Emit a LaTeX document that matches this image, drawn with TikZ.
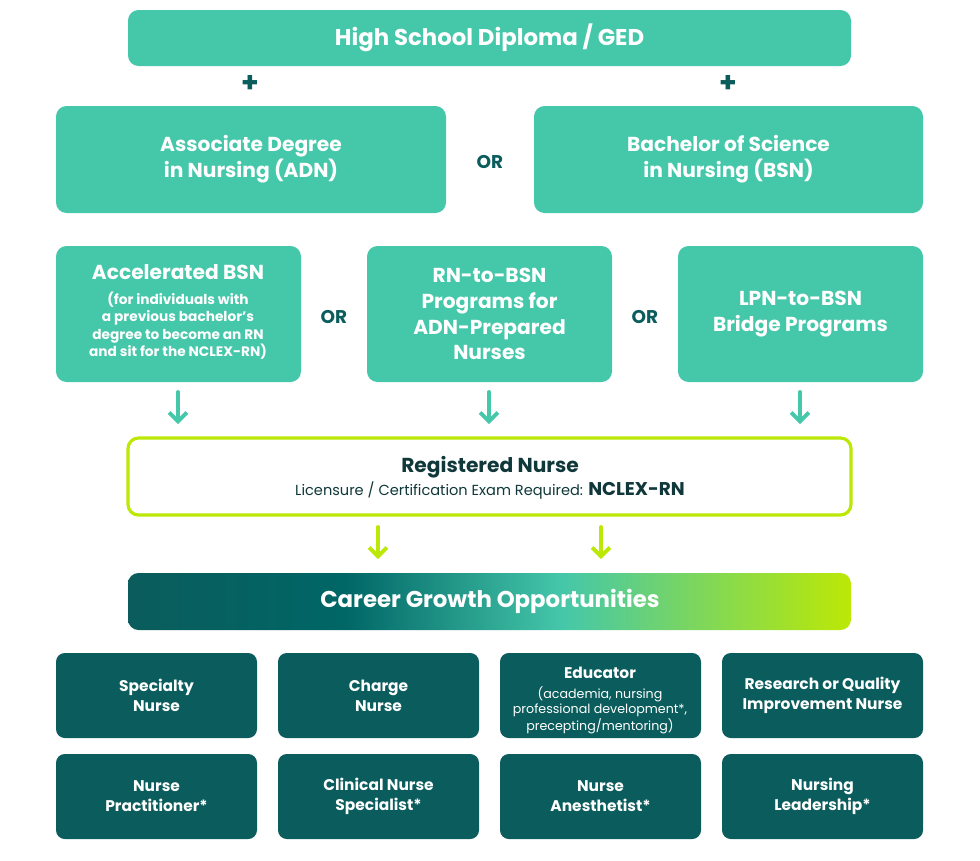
\documentclass[tikz,border=0pt]{standalone}
\usepackage{fontspec}
\setmainfont{Poppins}
\usetikzlibrary{arrows.meta}
\definecolor{tealL}{HTML}{45C7AA}
\definecolor{tealD}{HTML}{0B5C5C}
\definecolor{lime}{HTML}{BCE805}
\definecolor{ink}{HTML}{10383A}
\pgfdeclarehorizontalshading{growth}{100bp}{color(0bp)=(tealD); color(25bp)=(tealD); color(40bp)=(teal!80!black); color(55bp)=(tealL); color(75bp)=(lime); color(100bp)=(lime)}
\begin{document}
\begin{tikzpicture}[
  x=0.02cm, y=-0.02cm,
  light/.style={draw=none,fill=tealL,rounded corners=6pt,text=white,align=center,font=\bfseries\fontsize{11.5}{14.7}\selectfont},
  dark/.style={draw=none,fill=tealD,rounded corners=5pt,text=white,align=center,font=\bfseries\fontsize{8.8}{11.4}\selectfont},
  orlbl/.style={text=tealD,font=\bfseries\fontsize{10.5}{12}\selectfont},
  down/.style={-{Straight Barb[length=5pt,width=10pt]},line width=2.2pt,line cap=round}
  ]
  \useasboundingbox (0,0) rectangle (980,860);

  % top row
  \draw[light] (128,10) rectangle (851,66) node[midway,font=\bfseries\fontsize{13}{15}\selectfont] (hs) {High School Diploma / GED};
  \node[text=tealD,font=\bfseries\fontsize{16}{16}\selectfont] (plusA) at (250,84) {+};
  \node[text=tealD,font=\bfseries\fontsize{16}{16}\selectfont] (plusB) at (728,84) {+};

  % degrees
  \draw[light] (56,106) rectangle (446,213) node[midway] (adn) {Associate Degree\\in Nursing (ADN)};
  \draw[light] (534,106) rectangle (923,213) node[midway] (bsn) {Bachelor of Science\\in Nursing (BSN)};
  \node[orlbl] (orA) at (490,162) {OR};

  % programs
  \draw[light] (56,246) rectangle (301,382);
  \node[text=white,align=center,font=\bfseries\fontsize{11.5}{14}\selectfont] (absn) at (178,272) {Accelerated BSN};
  \node[text=white,align=center,font=\bfseries\fontsize{7.8}{9.8}\selectfont,below=0pt] (absnsub) at (178,286) {(for individuals with\\a previous bachelor’s\\degree to become an RN\\and sit for the NCLEX-RN)};
  \draw[light] (367,246) rectangle (612,382) node[midway] (rnbsn) {RN-to-BSN\\Programs for\\ADN-Prepared\\Nurses};
  \draw[light] (678,246) rectangle (923,382) node[midway] (lpn) {LPN-to-BSN\\Bridge Programs};
  \node[orlbl] (orB) at (334,317) {OR};
  \node[orlbl] (orC) at (645,317) {OR};

  % arrows to RN
  \foreach \x in {178,489,800}
    \draw[down,tealL] (\x,392) -- (\x,424);

  % registered nurse
  \draw[draw=lime,line width=1.8pt,fill=white,rounded corners=6pt] (128,438) rectangle (851,515);
  \node[text=ink,font=\bfseries\fontsize{11.5}{13}\selectfont] (rn) at (490,467) {Registered Nurse};
  \node[text=ink,font=\fontsize{8.3}{10}\selectfont] (rnsub) at (490,491) {Licensure / Certification Exam Required: {\bfseries\fontsize{10.5}{10}\selectfont NCLEX-RN}};

  \foreach \x in {378,601}
    \draw[down,lime] (\x,527) -- (\x,559);

  % career growth
  \path[shading=growth,rounded corners=6pt] (128,573) rectangle (851,630);
  \node[text=white,font=\bfseries\fontsize{13}{15}\selectfont] (career) at (490,601) {Career Growth Opportunities};

  % outcomes
  \draw[dark] (56,653) rectangle (257,738) node[midway] (spec) {Specialty\\Nurse};
  \draw[dark] (278,653) rectangle (479,738) node[midway] (charge) {Charge\\Nurse};
  \draw[dark] (500,653) rectangle (701,738);
  \node[text=white,font=\bfseries\fontsize{8.8}{10}\selectfont] (edu) at (600,673) {Educator};
  \node[text=white,align=center,font=\fontsize{7.2}{8.6}\selectfont,below=-1pt] (edusub) at (600,682) {(academia, nursing\\professional development*,\\precepting/mentoring)};
  \draw[dark] (722,653) rectangle (923,738) node[midway] (research) {Research or Quality\\Improvement Nurse};
  \draw[dark] (56,754) rectangle (257,839) node[midway] (np) {Nurse\\Practitioner*};
  \draw[dark] (278,754) rectangle (479,839) node[midway] (cns) {Clinical Nurse\\Specialist*};
  \draw[dark] (500,754) rectangle (701,839) node[midway] (crna) {Nurse\\Anesthetist*};
  \draw[dark] (722,754) rectangle (923,839) node[midway] (lead) {Nursing\\Leadership*};
\end{tikzpicture}
\end{document}
